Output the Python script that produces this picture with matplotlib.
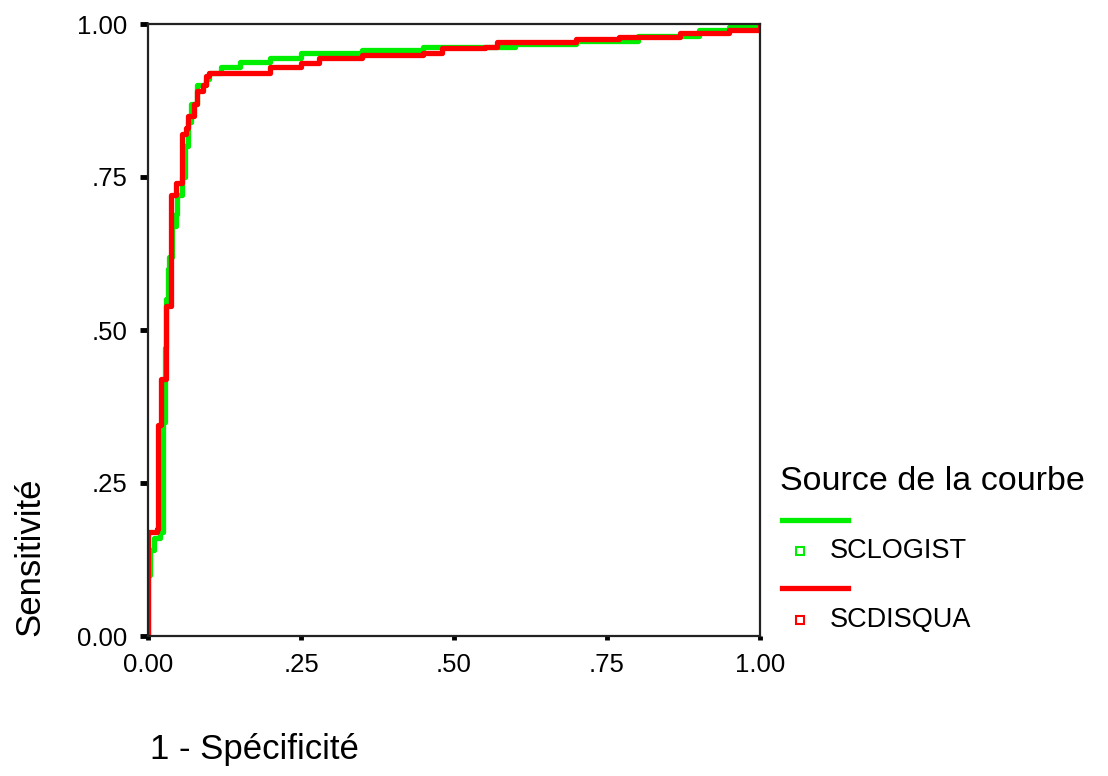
import matplotlib.pyplot as plt
from matplotlib.lines import Line2D

plt.rcParams['font.family'] = ['Liberation Sans', 'DejaVu Sans']

# ROC curve vertices (1 - specificity, sensitivity)
fpr_logist = [0.0, 0.0, 0.003, 0.01, 0.02, 0.025, 0.025, 0.028, 0.03, 0.032, 0.035,
              0.04, 0.045, 0.048, 0.055, 0.06, 0.065, 0.07, 0.08, 0.095, 0.1, 0.12,
              0.15, 0.2, 0.25, 0.35, 0.45, 0.55, 0.6, 0.7, 0.8, 0.9, 0.95, 1.0]
tpr_logist = [0.0, 0.10, 0.14, 0.16, 0.17, 0.19, 0.35, 0.47, 0.55, 0.60, 0.62,
              0.67, 0.69, 0.72, 0.75, 0.80, 0.84, 0.87, 0.90, 0.91, 0.92, 0.93,
              0.938, 0.945, 0.952, 0.957, 0.962, 0.962, 0.967, 0.972, 0.98, 0.99, 0.995, 1.0]

fpr_disqua = [0.0, 0.0, 0.015, 0.016, 0.022, 0.022, 0.03, 0.03, 0.038, 0.038, 0.045,
              0.055, 0.055, 0.062, 0.065, 0.075, 0.08, 0.09, 0.095, 0.1, 0.17, 0.2,
              0.25, 0.28, 0.35, 0.45, 0.48, 0.55, 0.57, 0.7, 0.77, 0.87, 0.95, 1.0]
tpr_disqua = [0.0, 0.17, 0.175, 0.345, 0.35, 0.42, 0.43, 0.54, 0.545, 0.72, 0.74,
              0.745, 0.82, 0.83, 0.85, 0.87, 0.89, 0.90, 0.915, 0.92, 0.92, 0.93,
              0.937, 0.945, 0.95, 0.953, 0.96, 0.963, 0.97, 0.975, 0.978, 0.985, 0.99, 1.0]

ticks = [0, 0.25, 0.5, 0.75, 1.0]
tick_labels = ['0.00', '.25', '.50', '.75', '1.00']
series_names = ['SCLOGIST', 'SCDISQUA']
colors = ['#00ee00', '#ff0000']

fig = plt.figure(figsize=(11.08, 7.76), dpi=100)
ax = fig.add_axes([148 / 1108, 1 - 636 / 776, 612 / 1108, 612 / 776])

ax.plot(fpr_logist, tpr_logist, color=colors[0], lw=3.8, drawstyle='steps-post')
ax.plot(fpr_disqua, tpr_disqua, color=colors[1], lw=3.8, drawstyle='steps-post')

ax.set_xlim(0, 1)
ax.set_ylim(0, 1)
ax.set_xticks(ticks)
ax.set_xticklabels(tick_labels)
ax.set_yticks(ticks)
ax.set_yticklabels(tick_labels)
ax.tick_params(axis='x', length=3, width=3.5, pad=9, labelsize=18.5, colors='black')
ax.tick_params(axis='y', length=6, width=3.5, pad=9, labelsize=18.5, colors='black')
for s in ax.spines.values():
    s.set_linewidth(1.6)
    s.set_color('#222222')

fig.text(150 / 1108, 1 - 750 / 776, '1 - Spécificité', fontsize=25,
         ha='left', va='center')
fig.text(30 / 1108, 1 - 557 / 776, 'Sensitivité', fontsize=25, rotation=90,
         ha='center', va='center')

# legend in SPSS style: line above, marker + name below
fig.text(780 / 1108, 1 - 481 / 776, 'Source de la courbe', fontsize=24.5,
         ha='left', va='center')
for i, (name, c) in enumerate(zip(series_names, colors)):
    yl = 520 + i * 68
    ym = 551 + i * 69
    fig.add_artist(Line2D([782 / 1108, 848 / 1108], [1 - yl / 776, 1 - yl / 776],
                          color=c, lw=3.8, transform=fig.transFigure))
    fig.add_artist(Line2D([800 / 1108], [1 - ym / 776], marker='s', ms=6,
                          mfc='white', mec=c, mew=1.5, ls='none',
                          transform=fig.transFigure))
    fig.text(830 / 1108, 1 - ym / 776, name, fontsize=19.5, ha='left', va='center')

fig.savefig('out.png', dpi=100)
